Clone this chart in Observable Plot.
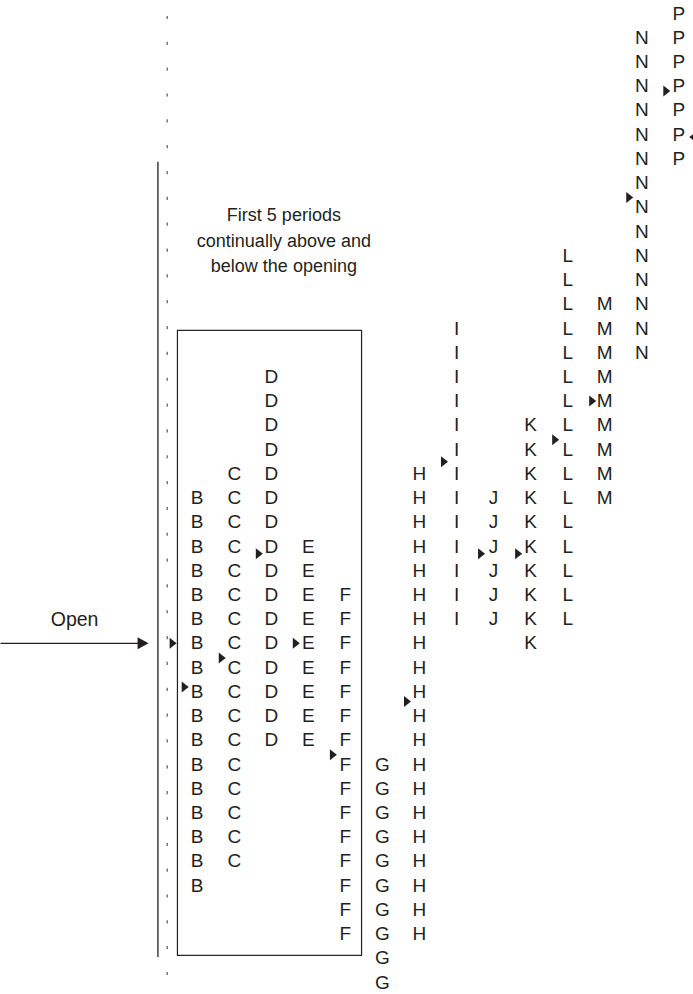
<!DOCTYPE html>
<html><head><meta charset="utf-8">
<script src="https://cdn.jsdelivr.net/npm/d3@7"></script>
<script src="https://cdn.jsdelivr.net/npm/@observablehq/plot@0.6"></script>
<style>
html,body{margin:0;padding:0;background:#fff;}
#wrap{position:relative;width:693px;height:994px;overflow:hidden;}
#wrap svg{position:absolute;left:0;top:0;}
</style></head><body><div id="wrap"></div>
<script>
// Time periods (letters) of the market profile, and the price rows they span (row 0 = highest price)
const periods   = ["B","C","D","E","F","G","H","I","J","K","L","M","N","P"];
const topRow    = [20, 19, 15, 22, 24, 31, 19, 13, 20, 17, 10, 12, 1, 0];
const bottomRow = [36, 35, 30, 30, 38, 40, 38, 25, 25, 26, 25, 20, 14, 6];

// Small triangle markers (closing price of each period)
const markerPeriod = ["B","C","D","E","F","H","I","J","K","L","M","N","P"];
const markerRow    = [27.8, 26.6, 22.3, 26.0, 30.6, 28.4, 18.5, 22.3, 22.3, 17.6, 16.0, 7.6, 3.2];
const lastMarkerRow = 5.1; // left-pointing marker beside the P column

// Opening price
const openRow = 26;
const openLabel = "Open";

// Price tick column (dotted scale)
const priceTicks = [0,1,2,3,4,5,6,7,8,9,10,11,12,13,14,15,16,17,18,19,20,21,22,23,24,25,26,27,28,29,30,31,32,33,34,35,36,37];

// Annotation
const noteLines = ["First 5 periods", "continually above and", "below the opening"];
const noteRows  = [8.34, 9.41, 10.44];
const noteCol   = 2.34;
const boxPeriods = periods.slice(0, 5);
const boxRows = [13.1, 38.9];

const font = "Liberation Sans, Arial, Helvetica, sans-serif";
const ink = "#231f20";

const cells = periods.flatMap((p, i) =>
  d3.range(topRow[i], bottomRow[i] + 1).map(r => ({period: p, col: i, row: r})));
const markers = markerPeriod.map((p, i) => ({col: periods.indexOf(p), row: markerRow[i]}));
const notes = noteLines.map((t, i) => ({text: t, row: noteRows[i]}));

const rightTri = {draw(ctx) { ctx.moveTo(-3.5, -5.5); ctx.lineTo(3.5, 0); ctx.lineTo(-3.5, 5.5); ctx.closePath(); }};
const leftTri  = {draw(ctx) { ctx.moveTo(3.5, -5.5); ctx.lineTo(-3.5, 0); ctx.lineTo(3.5, 5.5); ctx.closePath(); }};
const headTri  = {draw(ctx) { ctx.moveTo(-11, -6); ctx.lineTo(0, 0); ctx.lineTo(-11, 6); ctx.closePath(); }};
const tickSym  = {draw(ctx) { ctx.rect(-0.6, -1.6, 1.2, 3.2); }};

const xScale = {domain: [0, 13], range: [196.7, 678.3], axis: null};

const main = Plot.plot({
  width: 693, height: 994,
  marginTop: 0, marginRight: 0, marginBottom: 0, marginLeft: 0,
  x: xScale,
  y: {domain: [0, 40], range: [13, 982], axis: null},
  style: {fontFamily: font, background: "white", color: ink},
  marks: [
    // box around first 5 periods
    Plot.rect([boxPeriods], {
      x1: d => periods.indexOf(d[0]) - 0.52, x2: d => periods.indexOf(d[d.length - 1]) + 0.45,
      y1: boxRows[0], y2: boxRows[1], fill: "none", stroke: ink, strokeWidth: 1.2
    }),
    // long vertical line left of the profile
    Plot.ruleX([-1.06], {y1: 6.14, y2: 38.97, stroke: ink, strokeWidth: 1.3}),
    // letters
    Plot.text(cells, {x: "col", y: "row", text: "period", fontSize: 19, fill: ink}),
    // closing markers
    Plot.dot(markers, {x: "col", y: "row", symbol: rightTri, fill: ink, stroke: null, dx: -12}),
    // opening marker beside the first B
    Plot.dot([openRow], {x: -0.65, y: d => d, symbol: rightTri, fill: ink, stroke: null}),
    // left-pointing marker on the P column
    Plot.dot([lastMarkerRow], {x: periods.indexOf("P"), y: d => d, symbol: leftTri, fill: ink, stroke: null, dx: 14}),
    // open arrow
    Plot.link([openRow], {x1: -5.31, x2: -1.55, y1: d => d, y2: d => d, stroke: ink, strokeWidth: 1.3}),
    Plot.dot([openRow], {x: -1.313, y: d => d, symbol: headTri, fill: ink, stroke: null}),
    Plot.text([openLabel], {x: -3.31, y: openRow - 0.96, text: d => d, fontSize: 19.5, fill: ink}),
    // annotation
    Plot.text(notes, {x: noteCol, y: "row", text: "text", fontSize: 18, fill: ink})
  ]
});

const ticks = Plot.plot({
  width: 693, height: 994,
  marginTop: 0, marginRight: 0, marginBottom: 0, marginLeft: 0,
  x: xScale,
  y: {domain: [0, 37], range: [17, 973], axis: null},
  style: {background: "transparent"},
  marks: [
    Plot.dot(priceTicks, {x: -0.81, y: d => d, symbol: tickSym, fill: "#555", stroke: null})
  ]
});

const wrap = document.getElementById("wrap");
wrap.appendChild(main);
wrap.appendChild(ticks);
</script></body></html>
